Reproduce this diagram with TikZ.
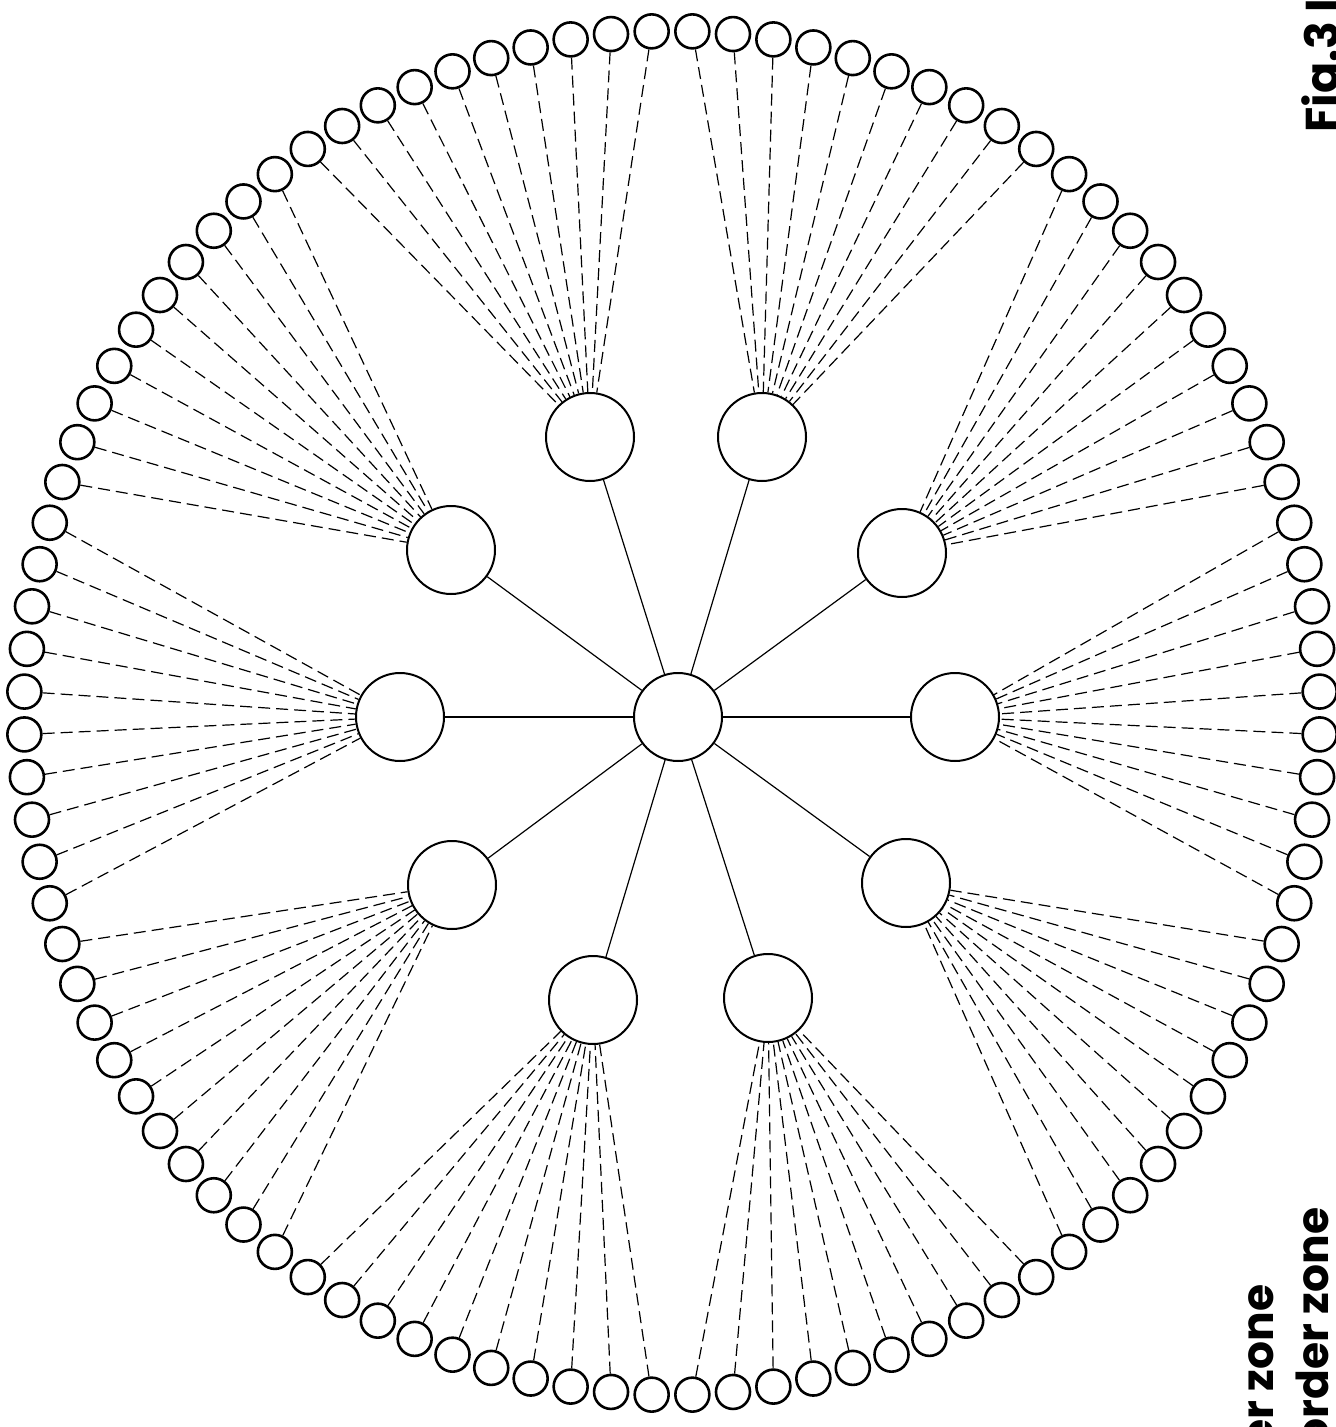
\documentclass[tikz,border=0pt]{standalone}
\usepackage{fontspec}
\newfontfamily\labelfont{Poppins}
\begin{document}
\begin{tikzpicture}[x=0.5pt,y=-0.5pt]
\useasboundingbox (0,0) rectangle (1336,1427);
\tikzset{
  outerc/.style={circle,draw,line width=1.3pt,minimum size=17pt,inner sep=0pt},
  midc/.style={circle,draw,line width=1pt,minimum size=44pt,inner sep=0pt},
  spoke/.style={line width=0.6pt},
  fanline/.style={line width=0.6pt,dash pattern=on 6pt off 3pt},
  lbl/.style={font=\labelfont\bfseries\fontsize{22}{26}\selectfont,rotate=90,inner sep=0pt},
  figlbl/.style={font=\labelfont\bfseries\fontsize{23}{27}\selectfont,rotate=90,inner sep=0pt}
}
\node[midc] (c) at (678,717) {};
\foreach \n/\x/\y in {0/955/717,1/902/553,2/762/437,3/590/437,4/451/550,5/400/717,6/452/885,7/593/1000,8/768/998,9/906/883}
  \node[midc] (m\n) at (\x,\y) {};
\foreach \k in {0,...,99}
  \node[outerc] (o\k) at ({672+648*cos(1.8+3.6*\k)},{713-682*sin(1.8+3.6*\k)}) {};
\foreach \i in {0,...,9}
  \draw[spoke] (c) -- (m\i);
\foreach \i in {0,...,9}
  \foreach \j in {-5,...,4} {
    \pgfmathtruncatemacro\k{mod(10*\i+\j+100,100)}
    \draw[fanline] (o\k) -- (m\i);
  }
\node[figlbl,anchor=base west] (fig) at (1338,133) {Fig.3 I};
\node[lbl,anchor=base east] (z1) at (1328,1207) {order zone};
\node[lbl,anchor=base east] (z2) at (1273,1284) {er zone};
\end{tikzpicture}
\end{document}
